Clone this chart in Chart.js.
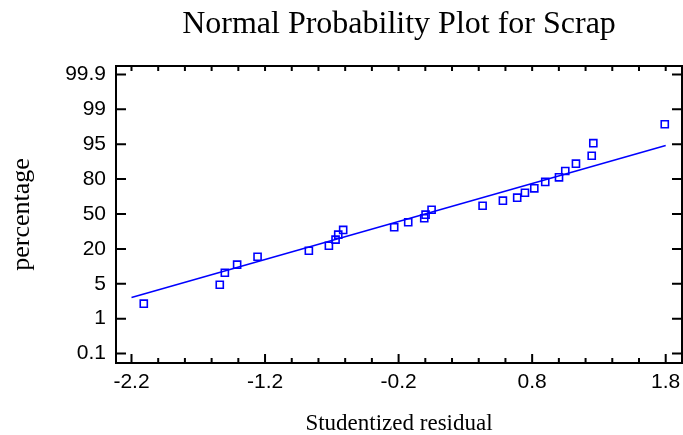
<!DOCTYPE html>
<html>
<head>
<meta charset="utf-8">
<script src="https://cdn.jsdelivr.net/npm/chart.js@4/dist/chart.umd.min.js"></script>
<style>
  html, body { margin: 0; padding: 0; background: #fff; }
</style>
</head>
<body>
<canvas id="grafica" width="683" height="435"></canvas>
<script>
// residuos studentizados (ordenados) y su porcentaje acumulado
const residuos = [-2.108, -1.539, -1.501, -1.409, -1.256, -0.872, -0.722, -0.672, -0.652, -0.615,
  -0.233, -0.128, -0.008, 0.002, 0.047, 0.429, 0.581, 0.688, 0.746, 0.816,
  0.898, 1.001, 1.048, 1.128, 1.246, 1.258, 1.793];
const porcentajes = [2.1, 4.8, 8.2, 11.4, 15.3, 18.8, 22.2, 26.8, 30.9, 35.0,
  37.4, 42.1, 45.9, 49.3, 54.1, 57.9, 62.6, 65.3, 69.6, 73.2,
  78.0, 81.1, 84.8, 88.4, 91.6, 95.2, 97.9];

// recta ajustada
const rectaX = [-2.2, 1.8];
const rectaPct = [2.8, 94.7];

// marcas de los ejes
const marcasPct = [0.1, 1, 5, 20, 50, 80, 95, 99, 99.9];
const marcasX = [-2.2, -1.2, -0.2, 0.8, 1.8];

const titulo = "Normal Probability Plot for Scrap";
const tituloX = "Studentized residual";
const tituloY = "percentage";

// cuantil normal (aprox. Abramowitz-Stegun)
function probit(p) {
  const q = p < 0.5 ? p : 1 - p;
  const t = Math.sqrt(-2 * Math.log(q));
  const z = t - (2.515517 + 0.802853 * t + 0.010328 * t * t) /
    (1 + 1.432788 * t + 0.189269 * t * t + 0.001308 * t * t * t);
  return p < 0.5 ? -z : z;
}

const zMarcas = marcasPct.map((p) => probit(p / 100));

// posicion en el eje (las marcas van equiespaciadas)
function posicion(pct) {
  const z = probit(pct / 100);
  let k = 0;
  while (k < zMarcas.length - 2 && z > zMarcas[k + 1]) k++;
  return k + (z - zMarcas[k]) / (zMarcas[k + 1] - zMarcas[k]);
}

const puntos = residuos.map((r, i) => ({ x: r, y: posicion(porcentajes[i]) }));
const recta = rectaX.map((r, i) => ({ x: r, y: posicion(rectaPct[i]) }));

const marco = {
  id: "marco",
  afterDraw(chart) {
    const { ctx, chartArea: a, scales } = chart;
    const x = scales.x;
    const y = scales.y;
    ctx.save();
    ctx.strokeStyle = "#000";
    ctx.lineWidth = 2;
    ctx.strokeRect(a.left, a.top, a.right - a.left, a.bottom - a.top);
    ctx.beginPath();
    marcasPct.forEach((p, i) => {
      const py = y.getPixelForValue(i);
      ctx.moveTo(a.left, py);
      ctx.lineTo(a.left + 10, py);
      ctx.moveTo(a.right, py);
      ctx.lineTo(a.right - 10, py);
    });
    for (let k = 0; k <= 20; k++) {
      const px = x.getPixelForValue(marcasX[0] + k * 0.2);
      const largo = k % 5 === 0 ? 9 : 5;
      ctx.moveTo(px, a.bottom);
      ctx.lineTo(px, a.bottom - largo);
      ctx.moveTo(px, a.top);
      ctx.lineTo(px, a.top + 5);
    }
    ctx.stroke();

    const cx = (a.left + a.right) / 2;
    ctx.fillStyle = "#000";
    ctx.textAlign = "center";
    ctx.textBaseline = "alphabetic";
    ctx.font = '32px "Liberation Serif"';
    ctx.fillText(titulo, cx, 33);
    ctx.font = '23px "Liberation Serif"';
    ctx.fillText(tituloX, cx, 430);
    ctx.translate(29, (a.top + a.bottom) / 2);
    ctx.rotate(-Math.PI / 2);
    ctx.font = '26px "Liberation Serif"';
    ctx.fillText(tituloY, 0, 0);
    ctx.restore();
  },
};

const fuenteEje = { family: "Liberation Sans", size: 21 };

new Chart(document.getElementById("grafica"), {
  type: "scatter",
  data: {
    datasets: [
      {
        data: puntos,
        showLine: false,
        pointStyle: "rect",
        pointRadius: 5,
        pointBorderWidth: 1.6,
        pointBorderColor: "#0000ff",
        pointBackgroundColor: "rgba(255,255,255,0)",
      },
      {
        data: recta,
        showLine: true,
        borderColor: "#0000ff",
        borderWidth: 1.5,
        pointRadius: 0,
      },
    ],
  },
  options: {
    responsive: false,
    animation: false,
    devicePixelRatio: 1,
    layout: { autoPadding: false, padding: { top: 66, right: 1, left: 0, bottom: 0 } },
    plugins: {
      legend: { display: false },
      tooltip: { enabled: false },
    },
    scales: {
      x: {
        type: "linear",
        min: -2.316,
        max: 1.922,
        grid: { display: false, drawTicks: false },
        border: { display: false },
        afterBuildTicks: (s) => {
          s.ticks = marcasX.map((v) => ({ value: v }));
        },
        afterFit: (s) => {
          s.height = 72;
          s.paddingLeft = 0;
          s.paddingRight = 0;
        },
        ticks: {
          font: fuenteEje,
          color: "#000",
          padding: 7,
          maxRotation: 0,
          autoSkip: false,
          callback: (v, i) => marcasX[i].toFixed(1),
        },
      },
      y: {
        type: "linear",
        min: -0.27,
        max: 8.24,
        grid: { display: false, drawTicks: false },
        border: { display: false },
        afterBuildTicks: (s) => {
          s.ticks = marcasPct.map((p, i) => ({ value: i }));
        },
        afterFit: (s) => {
          s.width = 116;
          s.paddingTop = 0;
          s.paddingBottom = 0;
        },
        ticks: {
          font: fuenteEje,
          color: "#000",
          padding: 10,
          autoSkip: false,
          callback: (v, i) => String(marcasPct[i]),
        },
      },
    },
  },
  plugins: [marco],
});
</script>
</body>
</html>
